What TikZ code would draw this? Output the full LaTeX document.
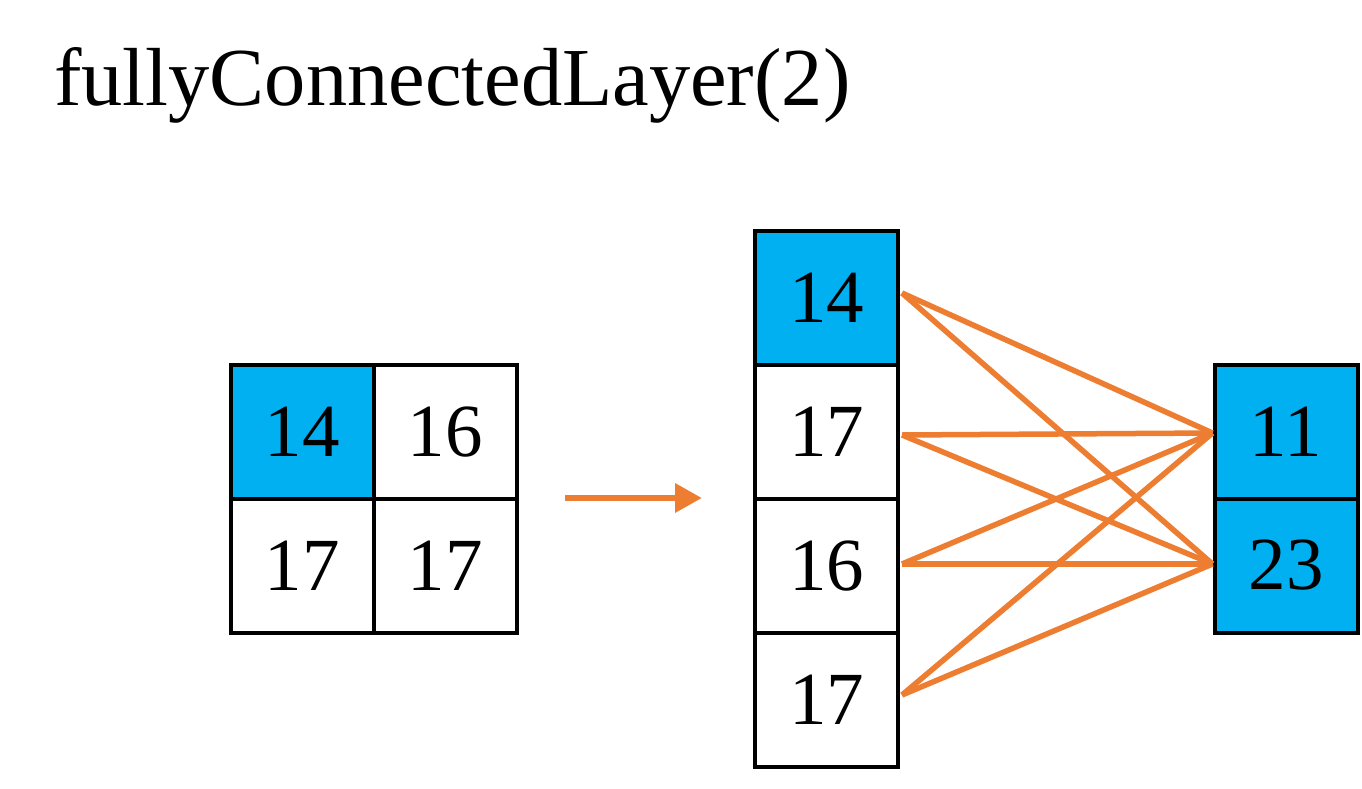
\documentclass[tikz,border=0pt]{standalone}
\usepackage{fontspec}
\setmainfont{Liberation Serif}
\usetikzlibrary{arrows.meta}
\definecolor{cellblue}{HTML}{00B0F0}
\definecolor{fcorange}{HTML}{ED7D31}
\begin{document}
\begin{tikzpicture}[x=1pt,y=-1pt,
  cell/.style={draw=black,line width=4pt,minimum width=143pt,minimum height=134pt,inner sep=0pt,font=\fontsize{75}{75}\selectfont,text=black},
  hot/.style={cell,fill=cellblue},
  conn/.style={draw=fcorange,line width=5.5pt},
  flow/.style={draw=fcorange,line width=6.5pt,-{Triangle[length=27pt,width=28pt]}}]
\useasboundingbox (0,0) rectangle (1362,789);
\node[anchor=base west,inner sep=0pt,font=\fontsize{82.4}{82.4}\selectfont] (title) at (54,106) {fullyConnectedLayer(2)};
% left grid
\node[hot]  (g11) at (302,432) {14};
\node[cell] (g12) at (445,432) {16};
\node[cell] (g21) at (302,566) {17};
\node[cell] (g22) at (445,566) {17};
% arrow
\coordinate (as) at (565,498);
\coordinate (ae) at (702,498);
\draw[flow] (as) -- (ae);
% column
\node[hot]  (c1) at (826.5,298) {14};
\node[cell] (c2) at (826.5,432) {17};
\node[cell] (c3) at (826.5,566) {16};
\node[cell] (c4) at (826.5,700) {17};
% outputs
\node[hot] (o1) at (1286,431.5) {11};
\node[hot] (o2) at (1286,565.5) {23};
% connections
\foreach \c/\s in {c1/5,c2/-3,c3/2,c4/5}{
  \draw[conn] ([xshift=2pt,yshift=\s pt]\c.east) -- ([yshift=-1.5pt]o1.west);
  \draw[conn] ([xshift=2pt,yshift=\s pt]\c.east) -- ([yshift=1.5pt]o2.west);
}
\end{tikzpicture}
\end{document}
